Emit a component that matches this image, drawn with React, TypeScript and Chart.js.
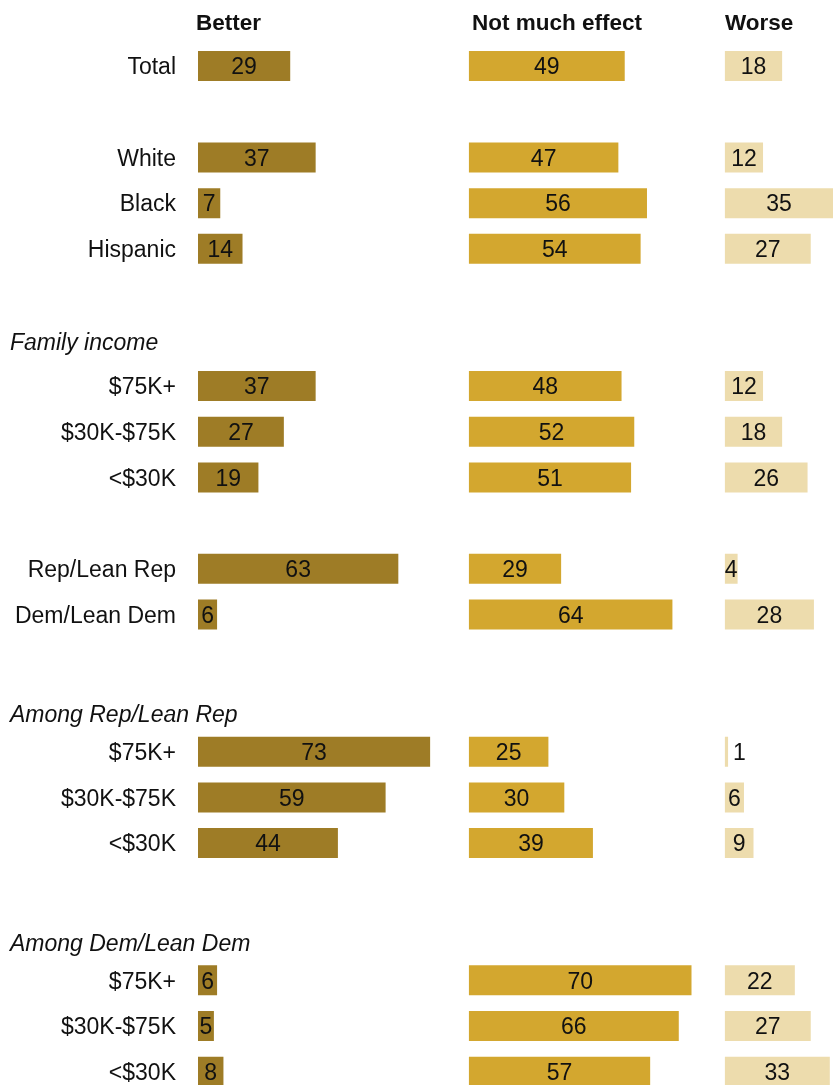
import React, { useEffect, useRef } from "react";
import { Chart, registerables } from "chart.js";

Chart.register(...registerables);

// ---- data ----
const rowLabels = [
  "Total", "", "White", "Black", "Hispanic", "", "",
  "$75K+", "$30K-$75K", "<$30K", "",
  "Rep/Lean Rep", "Dem/Lean Dem", "", "",
  "$75K+", "$30K-$75K", "<$30K", "", "",
  "$75K+", "$30K-$75K", "<$30K",
];
const better = [29, null, 37, 7, 14, null, null, 37, 27, 19, null, 63, 6, null, null, 73, 59, 44, null, null, 6, 5, 8];
const notMuch = [49, null, 47, 56, 54, null, null, 48, 52, 51, null, 29, 64, null, null, 25, 30, 39, null, null, 70, 66, 57];
const worse = [18, null, 12, 35, 27, null, null, 12, 18, 26, null, 4, 28, null, null, 1, 6, 9, null, null, 22, 27, 33];
const seriesNames = ["Better", "Not much effect", "Worse"];
const sectionHeaders = ["Family income", "Among Rep/Lean Rep", "Among Dem/Lean Dem"];
const sectionRows = [6, 14, 19];

// ---- layout / style ----
const COLORS = ["#9e7c26", "#d3a72f", "#eddcad"];
const OFFSETS = [0, 85.2, 165.7];
const HEADER_NUDGE = [1, 8, 8.5];
const TITLE_X = [196, 472, 725];
const TEXT_DY = 2;
const FONT = "23px 'Liberation Sans', Arial, sans-serif";
const W = 833;
const H = 1100;

function floating(values: (number | null)[], off: number) {
  return values.map((v) => (v == null ? null : [off, off + v]));
}

const labelPlugin = {
  id: "labels",
  afterDatasetsDraw(chart: any) {
    const ctx = chart.ctx as CanvasRenderingContext2D;
    const x = chart.scales.x;
    const y = chart.scales.y;
    ctx.save();
    ctx.fillStyle = "#111";
    ctx.textBaseline = "middle";
    // row labels
    ctx.font = FONT;
    ctx.textAlign = "right";
    rowLabels.forEach((lab, i) => {
      if (lab) ctx.fillText(lab, 176, y.getPixelForValue(i) + TEXT_DY);
    });
    // section headers
    ctx.font = "italic " + FONT;
    ctx.textAlign = "left";
    sectionHeaders.forEach((h, k) => {
      ctx.fillText(h, 10, y.getPixelForValue(sectionRows[k]) + HEADER_NUDGE[k] + TEXT_DY);
    });
    // column titles
    ctx.font = "bold 22.5px 'Liberation Sans', Arial, sans-serif";
    seriesNames.forEach((s, k) => ctx.fillText(s, TITLE_X[k], 22 + TEXT_DY));
    // values
    ctx.font = FONT;
    [better, notMuch, worse].forEach((vals, k) => {
      vals.forEach((v, i) => {
        if (v == null) return;
        const x0 = x.getPixelForValue(OFFSETS[k]);
        const x1 = Math.min(x.getPixelForValue(OFFSETS[k] + v), chart.chartArea.right);
        const yy = y.getPixelForValue(i) + TEXT_DY;
        if (x1 - x0 < 8) {
          ctx.textAlign = "left";
          ctx.fillText(String(v), x1 + 5, yy);
        } else {
          ctx.textAlign = "center";
          ctx.fillText(String(v), (x0 + x1) / 2, yy);
        }
      });
    });
    ctx.restore();
  },
};

export default function App() {
  const ref = useRef<HTMLCanvasElement>(null);
  useEffect(() => {
    if (!ref.current) return;
    const chart = new Chart(ref.current, {
      type: "bar",
      data: {
        labels: rowLabels.map((l, i) => l || " ".repeat(i + 1)),
        datasets: [better, notMuch, worse].map((vals, k) => ({
          label: seriesNames[k],
          data: floating(vals, OFFSETS[k]) as any,
          backgroundColor: COLORS[k],
          borderWidth: 0,
          grouped: false,
          barPercentage: 1,
          categoryPercentage: 30 / 45.71,
        })),
      },
      options: {
        indexAxis: "y",
        animation: false,
        responsive: false,
        maintainAspectRatio: false,
        layout: { padding: { left: 198, right: 0, top: 43.14, bottom: H - 1094.5 } },
        plugins: { legend: { display: false }, tooltip: { enabled: false } },
        scales: {
          x: { display: false, min: 0, max: 199.7 },
          y: { display: false },
        },
      },
      plugins: [labelPlugin],
    });
    return () => chart.destroy();
  }, []);
  return (
    <div style={{ position: "absolute", left: 0, top: 0, width: W, height: 1085, overflow: "hidden", background: "#fff" }}>
      <canvas ref={ref} width={W} height={H} style={{ display: "block", width: W, height: H }} />
    </div>
  );
}
